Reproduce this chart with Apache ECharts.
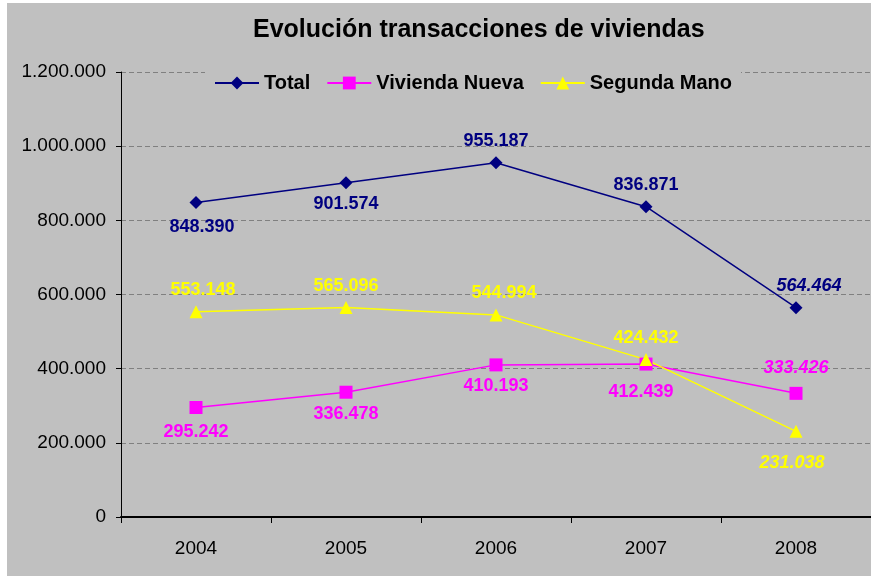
<!DOCTYPE html>
<html>
<head>
<meta charset="utf-8">
<script src="https://cdn.jsdelivr.net/npm/echarts@6/dist/echarts.min.js"></script>
<style>
  html, body { margin: 0; padding: 0; background: #fff; width: 871px; height: 576px; overflow: hidden; }
  #chart { position: absolute; left: 7px; top: 3px; width: 864px; height: 573px; background: #c0c0c0; }
</style>
</head>
<body>
<div id="chart"></div>
<script>
// data
var years = ["2004", "2005", "2006", "2007", "2008"];
var total = [848390, 901574, 955187, 836871, 564464];
var nueva = [295242, 336478, 410193, 412439, 333426];
var segunda = [553148, 565096, 544994, 424432, 231038];
var yTicks = [0, 200000, 400000, 600000, 800000, 1000000, 1200000];

// where each value label sits
var totalPos = ["bottom", "bottom", "top", "top", "top"];
var nuevaPos = ["bottom", "bottom", "bottom", "bottom", "top"];
var segundaPos = ["top", "top", "top", "top", "bottom"];
var totalOff = [[6, 3], [0, 0], [0, 0], [0, 0], [13, 0]];
var nuevaOff = [[0, 3], [0, 0], [0, 0], [-5, 6], [0, -4]];
var segundaOff = [[7, 0], [0, 0], [8, 0], [0, 0], [-4, 10]];

function fmt(v) {
  return String(v).replace(/\B(?=(\d{3})+(?!\d))/g, ".");
}

function items(vals, pos, off) {
  return vals.map(function (v, i) {
    return {
      value: v,
      label: {
        position: pos[i],
        offset: off[i],
        fontStyle: i === vals.length - 1 ? "italic" : "normal"
      }
    };
  });
}

function lineSeries(name, vals, pos, off, color, symbol, size) {
  return {
    type: "line",
    name: name,
    data: items(vals, pos, off),
    symbol: symbol,
    symbolSize: size,
    color: color,
    lineStyle: { color: color, width: 1.5 },
    itemStyle: { color: color },
    label: {
      show: true,
      distance: 6,
      color: color,
      fontFamily: "Arial, Liberation Sans",
      fontWeight: "bold",
      fontSize: 18,
      formatter: function (p) { return fmt(p.value); }
    },
    emphasis: { disabled: true },
    animation: false
  };
}

var myChart = echarts.init(document.getElementById("chart"));
var option = {
  backgroundColor: "#c0c0c0",
  title: {
    text: "Evolución transacciones de viviendas",
    left: 241,
    top: 10,
    textStyle: { fontFamily: "Arial, Liberation Sans", fontWeight: "bold", fontSize: 25, color: "#000" }
  },
  legend: {
    left: 198,
    top: 65,
    backgroundColor: "#c0c0c0",
    padding: [5, 9],
    itemWidth: 44,
    itemHeight: 16,
    itemGap: 16,
    lineStyle: { width: 2 },
    textStyle: { fontFamily: "Arial, Liberation Sans", fontWeight: "bold", fontSize: 20, color: "#000" },
    data: ["Total", "Vivienda Nueva", "Segunda Mano"]
  },
  grid: { left: 114, top: 69, width: 750, height: 445 },
  xAxis: {
    type: "category",
    data: years,
    boundaryGap: true,
    axisLine: { lineStyle: { color: "#000", width: 2 } },
    axisTick: { show: true, length: 6, lineStyle: { color: "#000", width: 1 } },
    axisLabel: { color: "#000", fontFamily: "Arial, Liberation Sans", fontSize: 19, margin: 22 }
  },
  yAxis: {
    type: "value",
    min: yTicks[0],
    max: yTicks[yTicks.length - 1],
    interval: yTicks[1] - yTicks[0],
    axisLine: { show: true, lineStyle: { color: "#000", width: 1 } },
    axisTick: { show: true, length: 5, lineStyle: { color: "#000" } },
    axisLabel: {
      color: "#000", fontFamily: "Arial, Liberation Sans", fontSize: 19, margin: 15,
      formatter: function (v) { return fmt(v); }
    },
    splitLine: { show: true, lineStyle: { color: "#808080", type: [5, 3], width: 1.2 } }
  },
  series: [
    lineSeries("Total", total, totalPos, totalOff, "#000080", "diamond", 13),
    lineSeries("Vivienda Nueva", nueva, nuevaPos, nuevaOff, "#ff00ff", "rect", 13),
    lineSeries("Segunda Mano", segunda, segundaPos, segundaOff, "#ffff00", "triangle", 13)
  ]
};
myChart.setOption(option);
window.addEventListener("resize", function () {
  myChart.resize();
});
</script>
</body>
</html>
